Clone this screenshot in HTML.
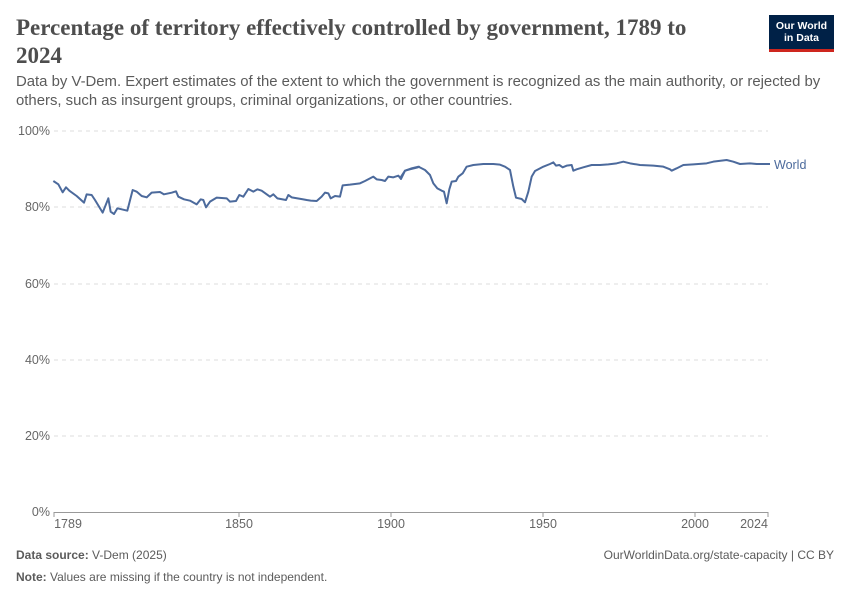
<!DOCTYPE html>
<html><head><meta charset="utf-8"><style>
body{margin:0;background:#fff;width:850px;height:600px;overflow:hidden;font-family:"Liberation Sans",sans-serif;position:relative}
.t{position:absolute;left:16px;top:14px;width:700px;font-family:"Liberation Serif",serif;font-size:23px;font-weight:bold;color:#4e4e4e;line-height:28px}
.s{position:absolute;left:16px;top:73px;width:830px;font-size:14.9px;color:#5b5b5b;line-height:19px}
.logo{position:absolute;left:769px;top:15px;width:65px;height:37px;background:#002147;color:#fff;font-size:10.5px;font-weight:bold;text-align:center;line-height:12px;padding-top:5px;box-sizing:border-box;border-bottom:3px solid #ce261e}
.f{position:absolute;font-size:12px;color:#5b5b5b}
</style></head><body>
<div class="t">Percentage of territory effectively controlled by government, 1789 to 2024</div>
<div class="s">Data by V-Dem. Expert estimates of the extent to which the government is recognized as the main authority, or rejected by others, such as insurgent groups, criminal organizations, or other countries.</div>
<div class="logo">Our World<br>in Data</div>
<svg width="850" height="600" style="position:absolute;left:0;top:0">
<g stroke="#ddd" stroke-dasharray="4,4" stroke-width="1">
<line x1="54" x2="768" y1="131" y2="131"/><line x1="54" x2="768" y1="207" y2="207"/><line x1="54" x2="768" y1="284" y2="284"/><line x1="54" x2="768" y1="360" y2="360"/><line x1="54" x2="768" y1="436" y2="436"/></g>
<line x1="54" x2="768" y1="512.5" y2="512.5" stroke="#999"/>
<g font-size="12.5" fill="#666" text-anchor="end">
<text x="50" y="135">100%</text><text x="50" y="211">80%</text><text x="50" y="288">60%</text><text x="50" y="364">40%</text><text x="50" y="440">20%</text><text x="50" y="516">0%</text></g>
<g font-size="12.5" fill="#666" text-anchor="middle" stroke="none">
<text x="68" y="528">1789</text><text x="239" y="528">1850</text><text x="391" y="528">1900</text><text x="543" y="528">1950</text><text x="695" y="528">2000</text><text x="754" y="528">2024</text></g>
<g stroke="#999"><line x1="54" x2="54" y1="512" y2="517"/><line x1="239" x2="239" y1="512" y2="517"/><line x1="391" x2="391" y1="512" y2="517"/><line x1="543" x2="543" y1="512" y2="517"/><line x1="695" x2="695" y1="512" y2="517"/><line x1="768" x2="768" y1="512" y2="517"/></g>
<g fill="none" stroke="#4c6a9c" stroke-width="2" stroke-linejoin="round">
<polyline transform="translate(40,150) scale(0.33333)" vector-effect="non-scaling-stroke" points="40,93 55,103 68,127 78,112 88,122 110,138 132,158 140,133 155,135 165,150 188,188 205,145 212,185 222,192 232,175 245,178 262,182 278,120 290,125 305,138 320,142 335,128 360,126 372,133 395,128 408,124 415,140 432,148 450,152 470,163 482,148 490,150 498,172 510,155 530,143 560,145 570,155 588,153 598,135 610,140 625,117 640,125 652,118 665,122 690,140 700,133 712,145 738,150 745,135 755,142 790,148 800,150 812,152 830,153 845,140 855,128 865,130 872,145 885,138 900,140 908,106 930,104 960,100 975,93 1000,80 1010,88 1025,90 1035,93 1045,80 1060,82 1075,77 1083,87 1095,62 1110,58 1130,53 1140,50"/>
<polyline transform="translate(400,150) scale(0.33333)" vector-effect="non-scaling-stroke" points="0,85 15,62 35,55 55,50 75,60 90,75 100,100 112,115 125,122 132,125 140,160 148,118 155,95 168,93 175,80 188,70 200,50 220,45 250,42 280,42 300,44 315,50 330,60 340,110 348,143 365,147 375,157 385,125 395,80 405,63 430,50 450,42 460,37 468,47 478,45 488,52 500,47 515,45 520,62 530,58 550,52 575,45 600,45 625,43 650,40 670,35 690,40 720,45 760,47 790,50 810,58 815,62 830,55 850,45 880,43 920,40 940,35 980,30 1000,35 1020,42 1050,40 1070,42 1110,42"/>
</g>
<text x="774" y="169" font-size="12.5" fill="#4c6a9c">World</text>
</svg>
<div class="f" style="left:16px;top:548px"><b>Data source:</b> V-Dem (2025)</div>
<div class="f" style="right:16px;top:548px">OurWorldinData.org/state-capacity | CC BY</div>
<div class="f" style="left:16px;top:570px"><b>Note:</b> Values are missing if the country is not independent.</div>
</body></html>
